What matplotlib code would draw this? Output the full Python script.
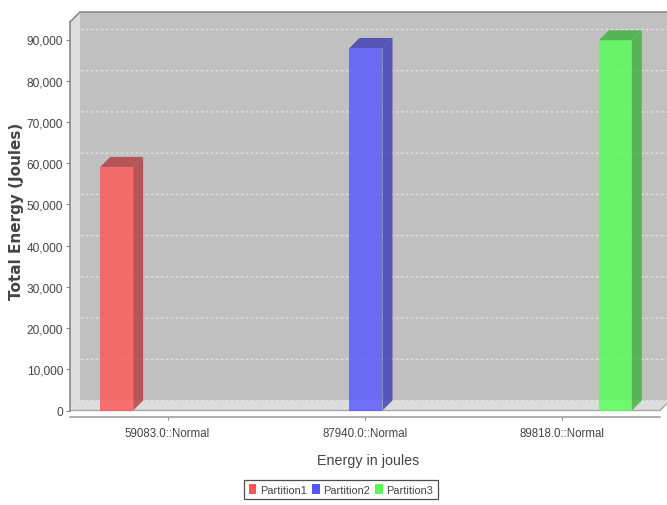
import matplotlib
matplotlib.use("Agg")
import matplotlib.pyplot as plt
from matplotlib.patches import Rectangle, Polygon, Patch
from matplotlib.lines import Line2D
import matplotlib.colors as mcolors

categories = ["59083.0::Normal", "87940.0::Normal", "89818.0::Normal"]
series_names = ["Partition1", "Partition2", "Partition3"]
partition1 = [59083.0, None, None]
partition2 = [None, 87940.0, None]
partition3 = [None, None, 89818.0]
series_values = [partition1, partition2, partition3]
series_colors = ["#FF5555", "#5555FF", "#55FF55"]
y_ticks = [0, 10000, 20000, 30000, 40000, 50000, 60000, 70000, 80000, 90000]

SANS = ["Liberation Sans", "DejaVu Sans"]
TEXT = "#444444"

W, H = 667, 506
fig = plt.figure(figsize=(W / 100, H / 100), dpi=100)
fig.patch.set_facecolor("white")

# front face of the plot area, in pixels
L, R, T, B = 70, 660, 23, 411.5
ax = fig.add_axes([L / W, 1 - B / H, (R - L) / W, (B - T) / H])
ax.patch.set_visible(False)

xmin, xmax = -0.4937, 2.4937
ymax = 90000 * (B - T) / 371.0
ax.set_xlim(xmin, xmax)
ax.set_ylim(0, ymax)

depth_px = 10
dx = depth_px * (xmax - xmin) / (R - L)
dy = depth_px * ymax / (B - T)

wall_col = "#DDDDDD"
back_col = "#C0C0C0"
edge_col = "#8A8A8A"

# back wall
ax.add_patch(Rectangle((xmin + dx, dy), xmax - xmin, ymax, facecolor=back_col,
                       edgecolor="none", clip_on=False, zorder=0))
# left wall and floor
ax.add_patch(Polygon([(xmin, 0), (xmin + dx, dy), (xmin + dx, ymax + dy), (xmin, ymax)],
                     closed=True, facecolor=wall_col, edgecolor="none", clip_on=False, zorder=0.5))
ax.add_patch(Polygon([(xmin, 0), (xmax, 0), (xmax + dx, dy), (xmin + dx, dy)],
                     closed=True, facecolor=wall_col, edgecolor="none", clip_on=False, zorder=0.5))

# gridlines running across the left wall and the back wall
for t in y_ticks:
    ax.add_line(Line2D([xmin, xmin + dx, xmax + dx], [t, t + dy, t + dy],
                       color="#E4E4E4", lw=0.9, ls=(0, (2, 2)), clip_on=False, zorder=1))

# outline edges
ax.add_line(Line2D([xmin, xmin + dx, xmax + dx], [ymax, ymax + dy, ymax + dy],
                   color=edge_col, lw=1.2, clip_on=False, zorder=2))
ax.add_line(Line2D([xmin, xmax, xmax + dx], [0, 0, dy],
                   color="#A8A8A8", lw=1.0, clip_on=False, zorder=2))

# 3D bars
bar_w = 33 * (xmax - xmin) / (R - L)
slot = 0.2625
for s, (name, vals, col) in enumerate(zip(series_names, series_values, series_colors)):
    dark = tuple(c * 0.7 for c in mcolors.to_rgb(col))
    for i, v in enumerate(vals):
        if v is None:
            continue
        x0 = i + (s - 1) * slot + 0.005 - bar_w / 2
        x1 = x0 + bar_w
        ax.add_patch(Rectangle((x0, 0), bar_w, v, facecolor=col, alpha=0.8,
                               edgecolor="none", zorder=3, clip_on=False))
        ax.add_patch(Polygon([(x1, 0), (x1 + dx, dy), (x1 + dx, v + dy), (x1, v)],
                             closed=True, facecolor=dark, alpha=0.8, edgecolor="none",
                             zorder=3, clip_on=False))
        ax.add_patch(Polygon([(x0, v), (x1, v), (x1 + dx, v + dy), (x0 + dx, v + dy)],
                             closed=True, facecolor=dark, alpha=0.8, edgecolor="none",
                             zorder=3, clip_on=False))

# axes
for side in ("top", "right"):
    ax.spines[side].set_visible(False)
ax.spines["left"].set_color(edge_col)
ax.spines["left"].set_linewidth(1.2)
ax.spines["bottom"].set_position(("outward", 5))
ax.spines["bottom"].set_color("#A0A0A0")
ax.spines["bottom"].set_linewidth(1.2)

ax.set_yticks(y_ticks)
ax.set_yticklabels([f"{t:,}" for t in y_ticks], family=SANS, fontsize=8.6, color=TEXT)
ax.tick_params(axis="y", length=3, width=0.8, color="#888888", pad=2)

ax.set_xticks(range(len(categories)))
ax.set_xticklabels(categories, family=SANS, fontsize=8.3, color=TEXT)
ax.tick_params(axis="x", length=2, width=0.8, color="#888888", pad=5)

fig.text(17 / W, 1 - 211 / H, "Total Energy (Joules)", rotation=90, ha="center", va="center",
         fontsize=11, fontweight="bold", color=TEXT, family="DejaVu Sans")
fig.text(368 / W, 1 - 461 / H, "Energy in joules", ha="center", va="center",
         fontsize=10.3, color=TEXT, family=SANS)

handles = [Patch(facecolor=c, edgecolor="none", label=n) for n, c in zip(series_names, series_colors)]
leg = fig.legend(handles=handles, loc="center", bbox_to_anchor=(341 / W, 1 - 490.5 / H),
                 ncol=3, frameon=True, fancybox=False, handlelength=0.7, handleheight=1.0,
                 handletextpad=0.3, columnspacing=0.5, borderpad=0.4, borderaxespad=0,
                 prop={"family": SANS, "size": 7.9})
leg.get_frame().set_edgecolor("#222222")
leg.get_frame().set_linewidth(0.9)
for txt in leg.get_texts():
    txt.set_color(TEXT)

fig.savefig("out.png", dpi=100)
